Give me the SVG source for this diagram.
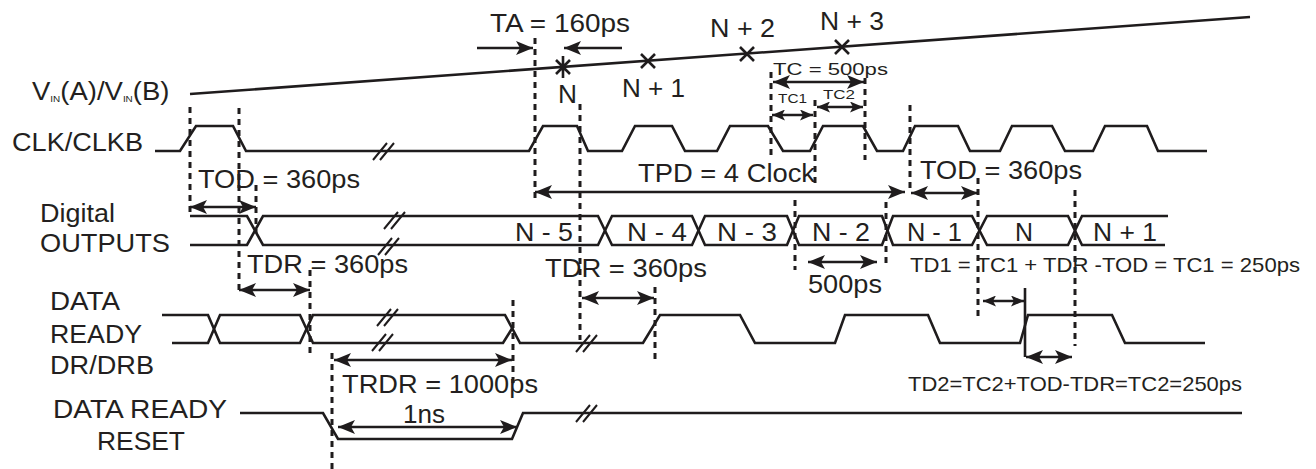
<svg xmlns="http://www.w3.org/2000/svg" width="1316" height="469" viewBox="0 0 1316 469">
<style>
.w{fill:none;stroke:#1f1c1d;stroke-width:2.6;stroke-linejoin:miter}
.d{fill:none;stroke:#1f1c1d;stroke-width:3;stroke-dasharray:6 5}
.a{fill:none;stroke:#1f1c1d;stroke-width:2.6}
.t{font-family:"Liberation Sans",Arial,sans-serif;fill:#231f20;font-size:25px}
.s{font-size:21px}
.m{font-size:17px}
.x{font-size:13px}
.br{fill:none;stroke:#1f1c1d;stroke-width:2}
</style>
<defs>
<marker id="ah" viewBox="0 0 17 14" refX="17" refY="7" markerWidth="17" markerHeight="14" markerUnits="userSpaceOnUse" orient="auto-start-reverse"><path d="M0,0 L17,7 L0,14 L4,7 Z" fill="#1f1c1d"/></marker>
<marker id="as" viewBox="0 0 13 11" refX="13" refY="5.5" markerWidth="13" markerHeight="11" markerUnits="userSpaceOnUse" orient="auto-start-reverse"><path d="M0,0 L13,5.5 L0,11 L3,5.5 Z" fill="#1f1c1d"/></marker>
<g id="brk"><path class="br" d="M-11,9 L3,-8 M-4,9 L10,-8"/></g>
</defs>
<rect width="1316" height="469" fill="#fff"/>

<g id="vin">
<path class="w" d="M190,94 L1250,17"/>
<path class="w" d="M556,60 L570,74 M570,60 L556,74 M563,56 V78"/>
<path class="w" d="M641,54 L655,68 M655,54 L641,68"/>
<path class="w" d="M740,47 L754,61 M754,47 L740,61"/>
<path class="w" d="M835,40 L849,54 M849,40 L835,54"/>
<text class="t" transform="translate(32,100) scale(1.1,1)">V<tspan font-size="9" dy="2">IN</tspan><tspan dy="-2">(A)/V</tspan><tspan font-size="9" dy="2">IN</tspan><tspan dy="-2">(B)</tspan></text>
<text class="t" x="558" y="103" textLength="19" lengthAdjust="spacingAndGlyphs">N</text>
<text class="t" x="622" y="97" textLength="63" lengthAdjust="spacingAndGlyphs">N + 1</text>
<text class="t" x="710" y="37" textLength="65" lengthAdjust="spacingAndGlyphs">N + 2</text>
<text class="t" x="820" y="30" textLength="64" lengthAdjust="spacingAndGlyphs">N + 3</text>
</g>

<g id="clk">
<path class="w" d="M155,151 H180 L196,126 H233 L246,151 H529 L543,126 H577 L588,151 H622 L635,126 H672 L685,151 H717 L730,126 H768 L783,151 H810 L823,126 H863 L877,151 H903 L915,126 H958 L970,151 H1000 L1012,126 H1052 L1065,151 H1093 L1105,126 H1147 L1158,151 H1207"/>
<use href="#brk" x="384" y="151"/>
<text class="t" x="12" y="151" textLength="131" lengthAdjust="spacingAndGlyphs">CLK/CLKB</text>
</g>

<g id="outputs">
<path class="w" d="M190,216 H247 L263,245 H598 L612,216 H692 L705,245 H787 L799,216 H882 L893,245 H972 L987,216 H1068 L1082,245 H1165"/>
<path class="w" d="M190,245 H247 L263,216 H598 L612,245 H692 L705,216 H787 L799,245 H882 L893,216 H972 L987,245 H1068 L1082,216 H1168"/>
<use href="#brk" x="395" y="220"/>
<use href="#brk" x="389" y="246"/>
<text class="t" x="40" y="222" textLength="75" lengthAdjust="spacingAndGlyphs">Digital</text>
<text class="t" x="40" y="252" textLength="130" lengthAdjust="spacingAndGlyphs">OUTPUTS</text>
<text class="t" x="515" y="241" textLength="58" lengthAdjust="spacingAndGlyphs">N - 5</text>
<text class="t" x="627" y="241" textLength="60" lengthAdjust="spacingAndGlyphs">N - 4</text>
<text class="t" x="717" y="241" textLength="60" lengthAdjust="spacingAndGlyphs">N - 3</text>
<text class="t" x="812" y="241" textLength="58" lengthAdjust="spacingAndGlyphs">N - 2</text>
<text class="t" x="907" y="241" textLength="55" lengthAdjust="spacingAndGlyphs">N - 1</text>
<text class="t" x="1015" y="241" textLength="18" lengthAdjust="spacingAndGlyphs">N</text>
<text class="t" x="1093" y="241" textLength="64" lengthAdjust="spacingAndGlyphs">N + 1</text>
</g>

<g id="dataready">
<path class="w" d="M162,315 H208 L220,343 H300 L313,315 H505 L520,343 H643 L660,315 H740 L755,343 H835 L845,315 H928 L940,343 H1020 L1028,315 H1112 L1125,343 H1205"/>
<path class="w" d="M172,343 H208 L220,315 H300 L313,343 H503 L513,327"/>
<use href="#brk" x="388" y="317"/>
<use href="#brk" x="383" y="342"/>
<use href="#brk" x="587" y="343"/>
<text class="t" x="50" y="310" textLength="70" lengthAdjust="spacingAndGlyphs">DATA</text>
<text class="t" x="50" y="343" textLength="92" lengthAdjust="spacingAndGlyphs">READY</text>
<text class="t" x="50" y="374" textLength="104" lengthAdjust="spacingAndGlyphs">DR/DRB</text>
</g>

<g id="reset">
<path class="w" d="M240,413 H323 L338,439 H512 L523,413 H1242"/>
<use href="#brk" x="587" y="413"/>
<text class="t" x="53" y="418" textLength="174" lengthAdjust="spacingAndGlyphs">DATA READY</text>
<text class="t" x="97" y="450" textLength="88" lengthAdjust="spacingAndGlyphs">RESET</text>
</g>

<g id="guides">
<path class="d" d="M190,107 V212"/>
<path class="d" d="M239,108 V292"/>
<path class="d" d="M256,185 V233"/>
<path class="d" d="M310,270 V358"/>
<path class="d" d="M332,353 V469"/>
<path class="d" d="M535,38 V198"/>
<path class="d" d="M580,104 V340"/>
<path class="d" d="M513,300 V383"/>
<path class="d" d="M655,287 V363"/>
<path class="d" d="M771,72 V160"/>
<path class="d" d="M815,100 V183"/>
<path class="d" d="M865,78 V160"/>
<path class="d" d="M795,200 V270"/>
<path class="d" d="M886,202 V264"/>
<path class="d" d="M910,105 V193"/>
<path class="d" d="M978,178 V318"/>
<path class="d" d="M1075,190 V346"/>
</g>

<g id="connectors">
<path class="a" d="M477,48 H533" marker-end="url(#ah)"/>
<path class="a" d="M622,48 H564" marker-end="url(#ah)"/>
<path class="a" d="M773,82 H864" marker-start="url(#ah)" marker-end="url(#ah)"/>
<path class="a" d="M772,115 H813" marker-start="url(#as)" marker-end="url(#as)"/>
<path class="a" d="M817,107 H863" marker-start="url(#as)" marker-end="url(#as)"/>
<path class="a" d="M190,207 H256" marker-start="url(#ah)" marker-end="url(#ah)"/>
<path class="a" d="M239,290 H310" marker-start="url(#ah)" marker-end="url(#ah)"/>
<path class="a" d="M535,192 H905" marker-start="url(#ah)" marker-end="url(#ah)"/>
<path class="a" d="M911,193 H978" marker-start="url(#ah)" marker-end="url(#ah)"/>
<path class="a" d="M582,298 H654" marker-start="url(#ah)" marker-end="url(#ah)"/>
<path class="a" d="M808,262 H877" marker-start="url(#ah)" marker-end="url(#ah)"/>
<path class="a" d="M983,301 H1024" marker-start="url(#as)" marker-end="url(#as)"/>
<path class="a" d="M1025,288 V357" stroke-width="3"/>
<path class="a" d="M1026,357 H1072" marker-start="url(#ah)" marker-end="url(#ah)"/>
<path class="a" d="M334,360 H512" marker-start="url(#ah)" marker-end="url(#ah)"/>
<path class="a" d="M338,427 H517" marker-start="url(#ah)" marker-end="url(#ah)"/>
</g>

<g id="labels">
<text class="t" x="490" y="32" textLength="140" lengthAdjust="spacingAndGlyphs">TA = 160ps</text>
<text class="t m" x="773" y="75" textLength="115" lengthAdjust="spacingAndGlyphs">TC = 500ps</text>
<text class="t x" x="778" y="103" textLength="29" lengthAdjust="spacingAndGlyphs">TC1</text>
<text class="t x" x="823" y="99" textLength="32" lengthAdjust="spacingAndGlyphs">TC2</text>
<text class="t" x="198" y="188" textLength="162" lengthAdjust="spacingAndGlyphs">TOD = 360ps</text>
<text class="t" x="247" y="273" textLength="161" lengthAdjust="spacingAndGlyphs">TDR = 360ps</text>
<text class="t" x="638" y="182" textLength="177" lengthAdjust="spacingAndGlyphs">TPD = 4 Clock</text>
<text class="t" x="920" y="179" textLength="162" lengthAdjust="spacingAndGlyphs">TOD = 360ps</text>
<text class="t" x="545" y="277" textLength="162" lengthAdjust="spacingAndGlyphs">TDR = 360ps</text>
<text class="t" x="808" y="293" textLength="74" lengthAdjust="spacingAndGlyphs">500ps</text>
<text class="t s" x="910" y="272" textLength="390" lengthAdjust="spacingAndGlyphs">TD1 = TC1 + TDR -TOD = TC1 = 250ps</text>
<text class="t" x="342" y="393" textLength="196" lengthAdjust="spacingAndGlyphs">TRDR = 1000ps</text>
<text class="t" x="403" y="423" textLength="42" lengthAdjust="spacingAndGlyphs">1ns</text>
<text class="t s" x="908" y="391" textLength="334" lengthAdjust="spacingAndGlyphs">TD2=TC2+TOD-TDR=TC2=250ps</text>
</g>
</svg>
